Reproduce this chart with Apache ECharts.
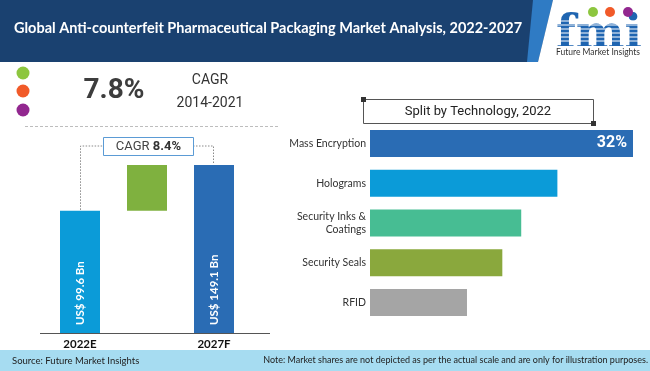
<!DOCTYPE html>
<html><head><meta charset="utf-8">
<script src="https://cdn.jsdelivr.net/npm/echarts@6/dist/echarts.min.js"></script>
<style>html,body{margin:0;padding:0;background:#fff}#c{width:650px;height:371px}</style>
</head><body><div id="c"></div>
<script>
// ---- data ----
const title = 'Global Anti-counterfeit Pharmaceutical Packaging Market Analysis, 2022-2027';
const years = ['2022E', '', '2027F'];
const marketValues = [99.6, 149.1];          // US$ Bn, 2022E and 2027F
const historicCagr = '7.8%';
const historicPeriod = '2014-2021';
const forecastCagr = '8.4%';
const techTitle = 'Split by Technology, 2022';
const techCategories = ['Mass Encryption', 'Holograms', 'Security Inks &\nCoatings', 'Security Seals', 'RFID'];
const techShares = [32, 22.8, 18.4, 16.1, 11.8];   // %
const sourceText = 'Source: Future Market Insights';
const noteText = 'Note: Market shares are not depicted as per the actual scale and are only for illustration purposes.';

// ---- styles ----
const techPalette = ['#2a6cb4', '#0b9bd8', '#47bd93', '#8aa83d', '#a5a5a5'];
const yearPalette = ['#0b9bd8', '#2a6cb4'];
const FONT = 'Lato, "Open Sans", sans-serif';

const chart = echarts.init(document.getElementById('c'), null, {renderer: 'canvas'});

const marketData = [
  {value: marketValues[0], itemStyle: {color: yearPalette[0]}},
  '-',
  {value: marketValues[1], itemStyle: {color: yearPalette[1]}}
];
const baseData = ['-', marketValues[0], '-'];
const growthData = ['-', +(marketValues[1] - marketValues[0]).toFixed(1), '-'];

chart.setOption({
  animation: false,
  backgroundColor: '#fff',
  grid: [
    {left: 46.5, width: 201, top: 165, bottom: 38},
    {left: 370, right: 17, top: 123.6, bottom: 48.6}
  ],
  xAxis: [
    {type: 'category', gridIndex: 0, data: years,
     axisLine: {show: false}, axisTick: {show: false},
     axisLabel: {margin: 5, color: '#111', fontWeight: 'bold', fontSize: 11.5, fontFamily: FONT}},
    {type: 'value', gridIndex: 1, min: 0, max: 32, show: false}
  ],
  yAxis: [
    {type: 'log', gridIndex: 0, min: 34, max: 149.1, show: false},
    {type: 'category', gridIndex: 1, data: techCategories, inverse: true,
     axisLine: {show: false}, axisTick: {show: false},
     axisLabel: {margin: 4, color: '#333', fontSize: 10.5, lineHeight: 13, fontFamily: FONT}}
  ],
  series: [
    {type: 'bar', name: 'market', xAxisIndex: 0, yAxisIndex: 0, stack: 'w', barWidth: 40,
     data: marketData,
     label: {show: true, position: 'insideBottom', rotate: 90, align: 'left', verticalAlign: 'middle',
             distance: 8, color: '#fff', fontWeight: 'bold', fontSize: 11.5, fontFamily: FONT,
             formatter: p => 'US$ ' + p.value + ' Bn'}},
    {type: 'bar', name: 'base', xAxisIndex: 0, yAxisIndex: 0, stack: 'w', barWidth: 40,
     data: baseData, itemStyle: {color: 'rgba(0,0,0,0)'}, silent: true},
    {type: 'bar', name: 'growth', xAxisIndex: 0, yAxisIndex: 0, stack: 'w', barWidth: 40,
     data: growthData, itemStyle: {color: '#7fb13f'}},
    {type: 'bar', name: 'tech', xAxisIndex: 1, yAxisIndex: 1, barWidth: 27,
     data: techShares.map((v, i) => {
       const d = {value: v, itemStyle: {color: techPalette[i]}};
       if (i === 0) d.label = {show: true, position: 'insideRight', distance: 6, color: '#fff',
         fontWeight: 'bold', fontSize: 16, fontFamily: 'Roboto, sans-serif', formatter: '{c}%'};
       return d;
     })}
  ]
});

// annotation positions from the scales
const pA = chart.convertToPixel({xAxisIndex: 0, yAxisIndex: 0}, [0, marketValues[0]]);
const pB = chart.convertToPixel({xAxisIndex: 0, yAxisIndex: 0}, [2, marketValues[1]]);
const boxL = 103, boxR = 193, boxT = 137, boxB = 155, boxMid = (boxT + boxB) / 2;
const dotted = {stroke: '#8a8a8a', lineWidth: 1, lineDash: [1.5, 1.5], fill: null};

const graphics = [
  // header
  {type: 'rect', shape: {x: 0, y: 0, width: 650, height: 62}, style: {fill: '#1a4170'}},
  {type: 'polygon', shape: {points: [[533, 0], [553, 0], [538, 62], [527, 62]]}, style: {fill: '#2f7bc4'}},
  {type: 'polygon', shape: {points: [[553, 0], [650, 0], [650, 62], [538, 62]]}, style: {fill: '#fff'}},
  {type: 'text', x: 14, y: 28, style: {text: title, fill: '#fff', font: 'bold 14.5px ' + FONT, verticalAlign: 'middle'}},
  // logo
  {type: 'text', x: 556, y: 59, style: {text: 'fmi', fill: '#1f65b1', font: 'bold 46px "DejaVu Serif", serif', verticalAlign: 'bottom'}},
  ...[21, 25, 29, 33, 37, 41].map(y => ({type: 'line', shape: {x1: 552, y1: y, x2: 646, y2: y}, style: {stroke: '#fff', lineWidth: 1}})),
  {type: 'rect', shape: {x: 552, y: 46, width: 96, height: 16}, style: {fill: '#fff'}},
  {type: 'circle', shape: {cx: 593, cy: 12, r: 5}, style: {fill: '#8dc63f'}},
  {type: 'circle', shape: {cx: 610, cy: 12, r: 5}, style: {fill: '#f15a29'}},
  {type: 'circle', shape: {cx: 628, cy: 12, r: 5}, style: {fill: '#92278f'}},
  {type: 'text', x: 598, y: 52, style: {text: 'Future Market Insights', fill: '#333', font: '8.5px ' + FONT, align: 'center', verticalAlign: 'middle'}},
  // left stats
  {type: 'circle', shape: {cx: 23, cy: 73, r: 6.5}, style: {fill: '#8dc63f'}},
  {type: 'circle', shape: {cx: 23, cy: 91, r: 6.5}, style: {fill: '#f15a29'}},
  {type: 'circle', shape: {cx: 23, cy: 110, r: 6.5}, style: {fill: '#92278f'}},
  {type: 'text', x: 114, y: 91, style: {text: historicCagr, fill: '#3d3d3d', font: 'bold 28px Roboto, sans-serif', align: 'center', verticalAlign: 'middle'}},
  {type: 'text', x: 210, y: 80, style: {text: 'CAGR', fill: '#333', font: '14px Roboto, sans-serif', align: 'center', verticalAlign: 'middle'}},
  {type: 'text', x: 210, y: 103, style: {text: historicPeriod, fill: '#333', font: '14px Roboto, sans-serif', align: 'center', verticalAlign: 'middle'}},
  {type: 'line', shape: {x1: 25, y1: 126.5, x2: 280, y2: 126.5}, style: {stroke: '#bdbdbd', lineWidth: 1, lineDash: [3, 2]}},
  // left axis line
  {type: 'line', shape: {x1: 40, y1: 333.5, x2: 270, y2: 333.5}, style: {stroke: '#555', lineWidth: 1}},
  // CAGR connectors
  {type: 'polyline', shape: {points: [[pA[0] + 0.5, pA[1] - 1], [pA[0] + 0.5, boxMid], [boxL, boxMid]]}, style: dotted},
  {type: 'polyline', shape: {points: [[boxR, boxMid], [pB[0] - 0.5, boxMid], [pB[0] - 0.5, pB[1] - 2]]}, style: dotted},
  {type: 'rect', shape: {x: boxL + 0.5, y: boxT + 0.5, width: boxR - boxL, height: boxB - boxT}, style: {fill: '#fff', stroke: '#5b9bd5', lineWidth: 1}},
  {type: 'text', x: (boxL + boxR) / 2 + 0.5, y: boxMid + 1, style: {
    text: '{n|CAGR }{b|' + forecastCagr + '}', align: 'center', verticalAlign: 'middle',
    rich: {n: {fontSize: 13, fontFamily: 'Roboto, sans-serif', fill: '#444', color: '#444'},
           b: {fontSize: 13, fontFamily: 'Roboto, sans-serif', fontWeight: 'bold', fill: '#333', color: '#333'}}}},
  // right title box
  {type: 'rect', shape: {x: 363.5, y: 99.5, width: 230, height: 24}, style: {fill: '#fff', stroke: '#555', lineWidth: 1}},
  {type: 'rect', shape: {x: 361, y: 97, width: 5, height: 5}, style: {fill: '#333'}},
  {type: 'rect', shape: {x: 591, y: 121, width: 5, height: 5}, style: {fill: '#333'}},
  {type: 'text', x: 478, y: 112, style: {text: techTitle, fill: '#222', font: '13px Roboto, sans-serif', align: 'center', verticalAlign: 'middle'}},
  // footer
  {type: 'rect', shape: {x: 0, y: 350, width: 650, height: 21}, style: {fill: '#a6dcf1'}},
  {type: 'text', x: 12, y: 360.5, style: {text: sourceText, fill: '#222', font: '9.5px ' + FONT, verticalAlign: 'middle'}},
  {type: 'text', x: 648, y: 360.5, style: {text: noteText, fill: '#222', font: '9px ' + FONT, align: 'right', verticalAlign: 'middle'}}
];
chart.setOption({graphic: graphics.map(g => Object.assign({silent: true}, g))});
</script>
</body></html>
